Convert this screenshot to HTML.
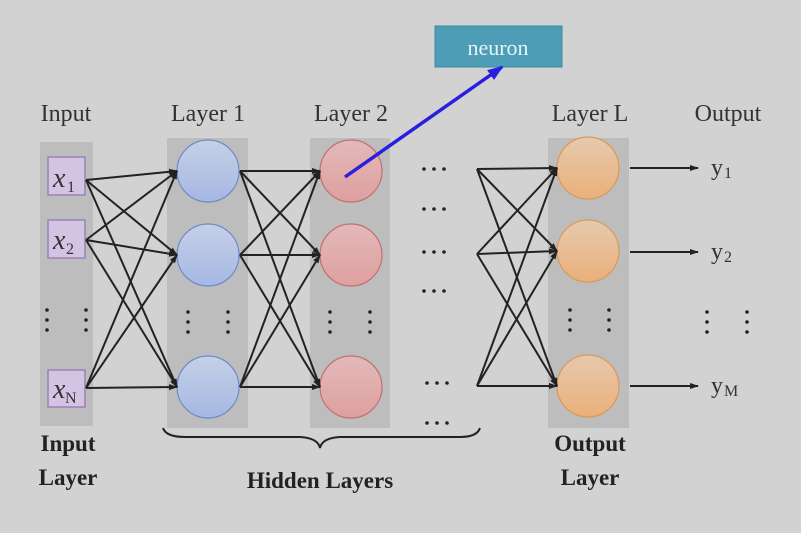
<!DOCTYPE html>
<html><head><style>body{margin:0;background:#d2d2d2}svg{display:block}</style></head><body>
<svg width="801" height="533" viewBox="0 0 801 533" xmlns="http://www.w3.org/2000/svg" font-family="Liberation Serif, serif">
<defs>
<marker id="a" markerWidth="9" markerHeight="8" refX="8" refY="4" orient="auto" markerUnits="userSpaceOnUse"><path d="M0,1 L9,4 L0,7z" fill="#222"/></marker>
<marker id="b" markerWidth="16" markerHeight="14" refX="14" refY="7" orient="auto" markerUnits="userSpaceOnUse"><path d="M0,1 L16,7 L0,13z" fill="#2a1fe0"/></marker>
<linearGradient id="gb" x1="0" y1="0" x2="0" y2="1"><stop offset="0" stop-color="#c6d0e6"/><stop offset="1" stop-color="#a5b8e3"/></linearGradient>
<linearGradient id="gr" x1="0" y1="0" x2="0" y2="1"><stop offset="0" stop-color="#e3b9b9"/><stop offset="1" stop-color="#df9f9f"/></linearGradient>
<linearGradient id="go" x1="0" y1="0" x2="0" y2="1"><stop offset="0" stop-color="#e6c9ad"/><stop offset="1" stop-color="#eab07a"/></linearGradient>
<g id="vd"><circle cx="0" cy="0" r="1.8"/><circle cx="0" cy="10" r="1.8"/><circle cx="0" cy="20" r="1.8"/></g>
<g id="hd"><circle cx="0" cy="0" r="1.8"/><circle cx="10" cy="0" r="1.8"/><circle cx="20" cy="0" r="1.8"/></g>
</defs>
<rect width="801" height="533" fill="#d2d2d2"/>
<rect x="40" y="142" width="53" height="284" fill="#bdbdbd"/>
<rect x="167" y="138" width="81" height="290" fill="#bdbdbd"/>
<rect x="310" y="138" width="80" height="290" fill="#bdbdbd"/>
<rect x="548" y="138" width="81" height="290" fill="#bdbdbd"/>
<g fill="#d4c3e3" stroke="#9a83b5" stroke-width="1.5">
<rect x="48" y="157" width="37" height="38"/><rect x="48" y="220" width="37" height="38"/><rect x="48" y="370" width="37" height="37"/>
</g>
<g font-style="italic" font-size="28" fill="#333"><text x="53" y="187">x</text><text x="53" y="249">x</text><text x="53" y="398">x</text></g>
<g font-size="16" fill="#333"><text x="67" y="192">1</text><text x="66" y="254">2</text><text x="65" y="403">N</text></g>
<g fill="url(#gb)" stroke="#6f8bc4" stroke-width="1.2"><circle cx="208" cy="171" r="31"/><circle cx="208" cy="255" r="31"/><circle cx="208" cy="387" r="31"/></g>
<g fill="url(#gr)" stroke="#c07070" stroke-width="1.2"><circle cx="351" cy="171" r="31"/><circle cx="351" cy="255" r="31"/><circle cx="351" cy="387" r="31"/></g>
<g fill="url(#go)" stroke="#d8995c" stroke-width="1.2"><circle cx="588" cy="168" r="31"/><circle cx="588" cy="251" r="31"/><circle cx="588" cy="386" r="31"/></g>
<g stroke="#222" stroke-width="2" fill="none" marker-end="url(#a)">
<line x1="86" y1="180" x2="177" y2="171"/><line x1="86" y1="180" x2="177" y2="255"/><line x1="86" y1="180" x2="177" y2="387"/>
<line x1="86" y1="240" x2="177" y2="171"/><line x1="86" y1="240" x2="177" y2="255"/><line x1="86" y1="240" x2="177" y2="387"/>
<line x1="86" y1="388" x2="177" y2="171"/><line x1="86" y1="388" x2="177" y2="255"/><line x1="86" y1="388" x2="177" y2="387"/>
<line x1="240" y1="171" x2="320" y2="171"/><line x1="240" y1="171" x2="320" y2="255"/><line x1="240" y1="171" x2="320" y2="387"/>
<line x1="240" y1="255" x2="320" y2="171"/><line x1="240" y1="255" x2="320" y2="255"/><line x1="240" y1="255" x2="320" y2="387"/>
<line x1="240" y1="387" x2="320" y2="171"/><line x1="240" y1="387" x2="320" y2="255"/><line x1="240" y1="387" x2="320" y2="387"/>
<line x1="477" y1="169" x2="557" y2="168"/><line x1="477" y1="169" x2="557" y2="251"/><line x1="477" y1="169" x2="557" y2="386"/>
<line x1="477" y1="254" x2="557" y2="168"/><line x1="477" y1="254" x2="557" y2="251"/><line x1="477" y1="254" x2="557" y2="386"/>
<line x1="477" y1="386" x2="557" y2="168"/><line x1="477" y1="386" x2="557" y2="251"/><line x1="477" y1="386" x2="557" y2="386"/>
<line x1="630" y1="168" x2="698" y2="168"/><line x1="630" y1="252" x2="698" y2="252"/><line x1="630" y1="386" x2="698" y2="386"/>
</g>
<g font-size="24" fill="#333"><text x="66" y="121" text-anchor="middle">Input</text><text x="208" y="121" text-anchor="middle">Layer 1</text><text x="351" y="121" text-anchor="middle">Layer 2</text><text x="590" y="121" text-anchor="middle">Layer L</text><text x="728" y="121" text-anchor="middle">Output</text>
<text x="711" y="175">y</text><text x="711" y="259">y</text><text x="711" y="393">y</text></g>
<g font-size="16" fill="#333"><text x="724" y="178">1</text><text x="724" y="262">2</text><text x="724" y="396">M</text></g>
<g fill="#222">
<use href="#vd" x="47" y="310"/><use href="#vd" x="86" y="310"/><use href="#vd" x="188" y="312"/><use href="#vd" x="228" y="312"/><use href="#vd" x="330" y="312"/><use href="#vd" x="370" y="312"/><use href="#vd" x="570" y="310"/><use href="#vd" x="609" y="310"/><use href="#vd" x="707" y="312"/><use href="#vd" x="747" y="312"/>
<use href="#hd" x="424" y="169"/><use href="#hd" x="424" y="209"/><use href="#hd" x="424" y="252"/><use href="#hd" x="424" y="291"/><use href="#hd" x="427" y="383"/><use href="#hd" x="427" y="423"/>
</g>
<path d="M163,428 Q166,437 185,437 L300,437 Q318,438 320,448 Q322,438 340,437 L460,437 Q477,437 480,428" fill="none" stroke="#222" stroke-width="2"/>
<g font-size="23" font-weight="bold" fill="#222" text-anchor="middle"><text x="68" y="451">Input</text><text x="68" y="485">Layer</text><text x="320" y="488">Hidden Layers</text><text x="590" y="451">Output</text><text x="590" y="485">Layer</text></g>
<rect x="435" y="26" width="127" height="41" fill="#4e9db6" stroke="#3a8aa3"/>
<text x="498" y="55" text-anchor="middle" font-size="22" fill="#e8f2f5">neuron</text>
<line x1="345" y1="177" x2="502" y2="67" stroke="#2a1fe0" stroke-width="3.5" marker-end="url(#b)"/>
</svg>
</body></html>
